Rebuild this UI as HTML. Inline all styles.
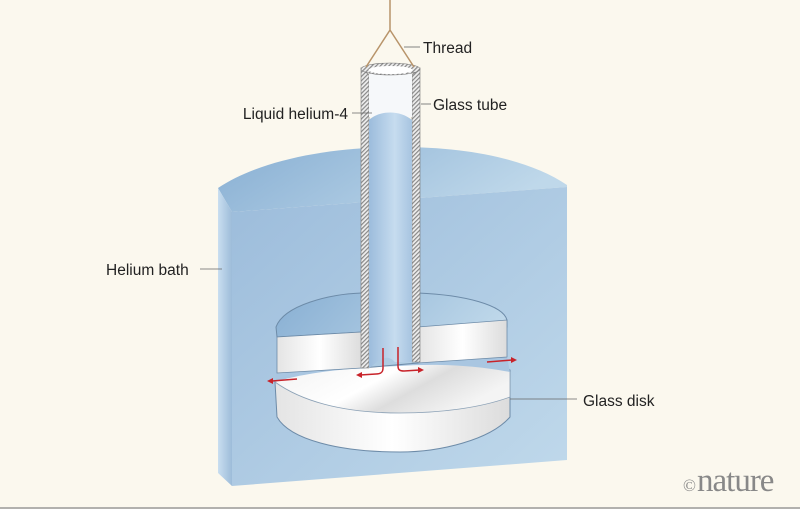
<!DOCTYPE html>
<html><head><style>
html,body{margin:0;padding:0;background:#fbf8ee;}
svg{display:block}
text{font-family:"Liberation Sans",sans-serif;font-size:15.5px;fill:#222}
</style></head><body>
<svg width="800" height="509" viewBox="0 0 800 509" xmlns="http://www.w3.org/2000/svg">
<defs>
<pattern id="h" width="3" height="3" patternUnits="userSpaceOnUse" patternTransform="rotate(45)">
<rect width="3" height="3" fill="#eee"/><rect width="1.2" height="3" fill="#888"/></pattern>
<linearGradient id="top" x1="0" y1="0" x2="1" y2="0.3"><stop offset="0" stop-color="#88afd3"/><stop offset="1" stop-color="#bfd8ea"/></linearGradient>
<linearGradient id="front" x1="0" y1="0" x2="1" y2="1"><stop offset="0" stop-color="#9cbcdb"/><stop offset="1" stop-color="#c0d9eb"/></linearGradient>
<linearGradient id="side" x1="0" y1="0" x2="1" y2="0"><stop offset="0" stop-color="#c9def0"/><stop offset="1" stop-color="#9dbcd9"/></linearGradient>
<linearGradient id="liq" x1="0" y1="0" x2="1" y2="0"><stop offset="0" stop-color="#9cbcdc"/><stop offset="0.6" stop-color="#c6dcef"/><stop offset="1" stop-color="#a7c4e0"/></linearGradient>
<linearGradient id="wh" x1="0" y1="0" x2="1" y2="0"><stop offset="0" stop-color="#e4e4e4"/><stop offset="0.5" stop-color="#fff"/><stop offset="1" stop-color="#dcdcdc"/></linearGradient>
<linearGradient id="diskt" x1="0" y1="0" x2="1" y2="0.4"><stop offset="0" stop-color="#f2f2f2"/><stop offset="0.5" stop-color="#fff"/><stop offset="0.7" stop-color="#ddd"/><stop offset="1" stop-color="#f4f4f4"/></linearGradient>
</defs>
<rect width="800" height="509" fill="#fbf8ee"/>
<path d="M218,188 C260,160 330,147 400,147 C470,147 530,160 567,185 L567,187 L232,212 Z" fill="url(#top)"/>
<path d="M232,212 L567,187 L567,460 L232,486 Z" fill="url(#front)"/>
<path d="M218,188 L232,212 L232,486 L218,473 Z" fill="url(#side)"/>
<path d="M275,382 C300,368 380,362 420,362 C470,362 505,366 510,370 L510,417 C490,440 440,452 400,452 C340,452 290,440 277,417 Z" fill="url(#wh)" stroke="#6d8ba8" stroke-width="1"/>
<path d="M275,382 C300,368 380,362 420,362 C470,362 505,366 510,372 L510,397 C480,408 440,413 400,413 C340,413 300,400 275,382 Z" fill="url(#diskt)" stroke="#8aa0b5" stroke-width="0.8"/>
<path d="M277,373 L362,368 L418,363 L507,357 L510,372 C480,366 440,363 400,366 C340,368 300,374 275,382 Z" fill="#a9c6e1"/>
<path d="M276,327 C284,305 330,294 362,293 L418,293 C465,295 503,305 507,320 L507,327 L418,327 L418,363 L362,368 L362,332 L277,337 Z" fill="url(#top)" stroke="#6d8ba8" stroke-width="1"/>
<path d="M277,337 L362,332 L362,368 L277,373 Z" fill="url(#wh)" stroke="#6d8ba8" stroke-width="0.8"/>
<path d="M418,327 L507,320 L507,357 L418,363 Z" fill="url(#wh)" stroke="#6d8ba8" stroke-width="0.8"/>
<path d="M361,68 L361,368 L369,368 L369,75 Z" fill="url(#h)" stroke="#777" stroke-width="0.6"/>
<path d="M412,75 L412,362 L420,362 L420,68 Z" fill="url(#h)" stroke="#777" stroke-width="0.6"/>
<rect x="369" y="72" width="43" height="45" fill="#f6f8fa"/>
<path d="M369,120 C380,110 400,110 412,120 L412,362 L395,362 C385,352 378,362 369,368 Z" fill="url(#liq)"/>
<ellipse cx="390.5" cy="69" rx="29.5" ry="6" fill="url(#h)" stroke="#777" stroke-width="0.6"/>
<ellipse cx="390.5" cy="70" rx="22" ry="4" fill="#fff"/>
<path d="M390,0 L390,30 L366,67 M390,30 L414,67" stroke="#b8946a" stroke-width="1.5" fill="none"/>
<g stroke="#c8232a" stroke-width="1.5" fill="none">
<path d="M383,348 L383,368 C383,373 380,374 376,374 L360,375"/>
<path d="M398,347 L398,366 C398,370 400,371 404,371 L420,370"/>
<path d="M297,379 L272,381"/>
<path d="M487,362 L512,360"/>
</g>
<g fill="#c8232a">
<path d="M356,375 L362,372 L362,378 Z"/>
<path d="M424,370 L418,367 L418,373 Z"/>
<path d="M267,381 L273,378 L273,384 Z"/>
<path d="M517,360 L511,357 L511,363 Z"/>
</g>
<g stroke="#666" stroke-width="0.8">
<line x1="404" y1="47" x2="420" y2="47"/>
<line x1="421" y1="104" x2="431" y2="104"/>
<line x1="352" y1="113" x2="372" y2="113"/>
<line x1="200" y1="269" x2="222" y2="269"/>
<line x1="510" y1="399" x2="577" y2="399"/>
</g>
<text x="423" y="53">Thread</text>
<text x="433" y="110">Glass tube</text>
<text x="348" y="119" text-anchor="end">Liquid helium-4</text>
<text x="106" y="275">Helium bath</text>
<text x="583" y="406">Glass disk</text>
<text x="683" y="491" style="font-family:'Liberation Serif',serif;font-size:17px;fill:#888">©</text>
<text x="697" y="491" style="font-family:'Liberation Serif',serif;font-size:33px;fill:#888;letter-spacing:-1px">nature</text>
<line x1="0" y1="508" x2="800" y2="508" stroke="#999" stroke-width="1.5"/>
</svg>
</body></html>
